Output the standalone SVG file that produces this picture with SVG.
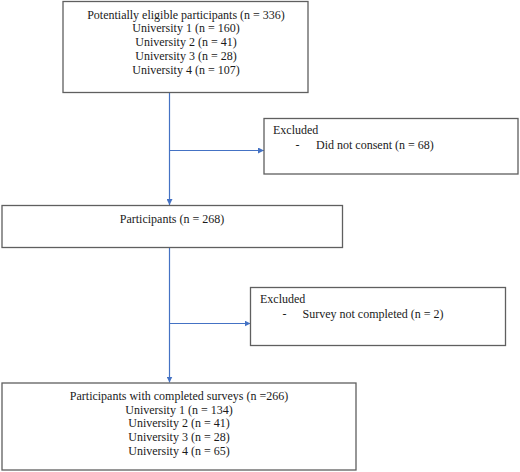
<svg xmlns="http://www.w3.org/2000/svg" width="520" height="472" viewBox="0 0 520 472">
<style>
.box{fill:#fff;stroke:#5f5f5f;stroke-width:1.3}
.t{font-family:"Liberation Serif","Times New Roman",serif;font-size:12px;fill:#1a1a1a}
.c{text-anchor:middle}
.conn{stroke:#4472c4;stroke-width:1.2;fill:none}
</style>
<defs>
<marker id="ah" viewBox="0 0 10 10" refX="10" refY="5" markerWidth="6" markerHeight="6" markerUnits="userSpaceOnUse" orient="auto">
<path d="M0,0 L10,5 L0,10 z" fill="#4472c4"/>
</marker>
</defs>
<rect width="520" height="472" fill="#fff"/>
<g id="connectors">
<path class="conn" d="M169.5,92.5 V205" marker-end="url(#ah)"/>
<path class="conn" d="M169.5,150.5 H264" marker-end="url(#ah)"/>
<path class="conn" d="M169.5,247.5 V382.5" marker-end="url(#ah)"/>
<path class="conn" d="M169.5,323.5 H250.5" marker-end="url(#ah)"/>
</g>
<g id="eligible">
<rect class="box" x="63" y="1.5" width="245" height="91"/>
<text class="t c" x="186" y="18.5">Potentially eligible participants (n = 336)</text>
<text class="t c" x="186" y="32">University 1 (n = 160)</text>
<text class="t c" x="186" y="46">University 2 (n = 41)</text>
<text class="t c" x="186" y="60">University 3 (n = 28)</text>
<text class="t c" x="186" y="73.5">University 4 (n = 107)</text>
</g>
<g id="excluded1">
<rect class="box" x="264" y="118.5" width="254" height="55.5"/>
<text class="t" x="273" y="134">Excluded</text>
<text class="t" x="295.5" y="148.5">-</text>
<text class="t" x="316" y="148.5">Did not consent (n = 68)</text>
</g>
<g id="participants">
<rect class="box" x="2" y="205.5" width="340.5" height="42"/>
<text class="t c" x="172" y="223">Participants (n = 268)</text>
</g>
<g id="excluded2">
<rect class="box" x="250.5" y="287.5" width="255" height="58"/>
<text class="t" x="260" y="303">Excluded</text>
<text class="t" x="282.5" y="318">-</text>
<text class="t" x="302.5" y="318">Survey not completed (n = 2)</text>
</g>
<g id="completed">
<rect class="box" x="2" y="383" width="354" height="87"/>
<text class="t c" x="179" y="399.5">Participants with completed surveys (n =266)</text>
<text class="t c" x="179" y="413.5">University 1 (n = 134)</text>
<text class="t c" x="179" y="427">University 2 (n = 41)</text>
<text class="t c" x="179" y="441">University 3 (n = 28)</text>
<text class="t c" x="179" y="454.5">University 4 (n = 65)</text>
</g>
</svg>
